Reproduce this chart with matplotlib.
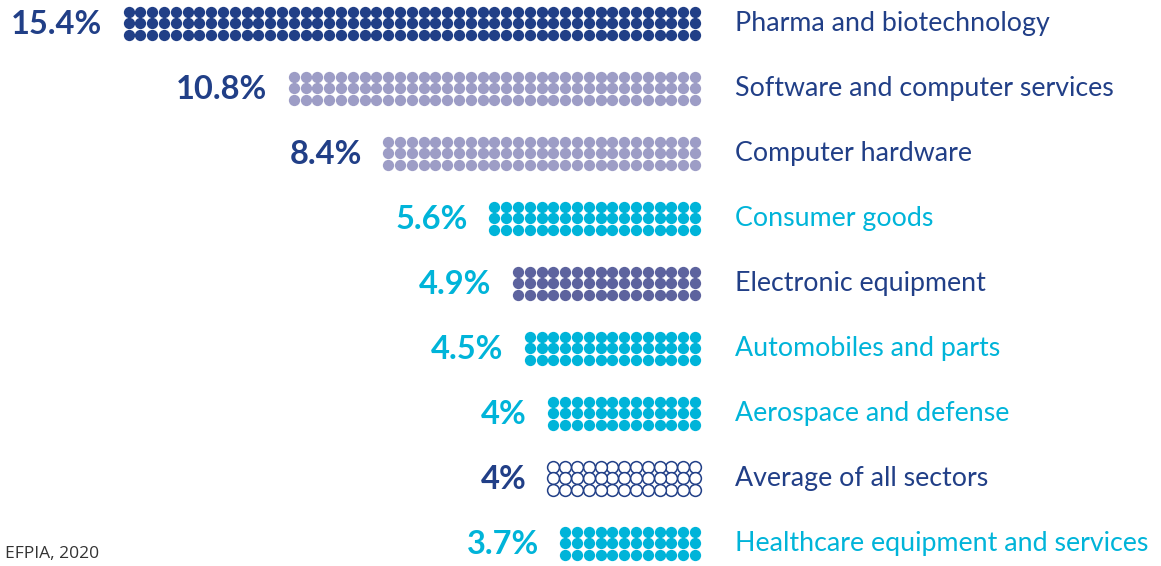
import matplotlib.pyplot as plt

# --- Data ---
sectors = ["Pharma and biotechnology", "Software and computer services",
           "Computer hardware", "Consumer goods", "Electronic equipment",
           "Automobiles and parts", "Aerospace and defense",
           "Average of all sectors", "Healthcare equipment and services"]
shares = ["15.4%", "10.8%", "8.4%", "5.6%", "4.9%", "4.5%", "4%", "4%", "3.7%"]
dot_cols = [49, 35, 27, 18, 16, 15, 13, 13, 12]

DARK = "#213f87"
LAV = "#9d9dc6"
CYAN = "#00b4d9"
SLATE = "#5d639e"

dot_colors = [DARK, LAV, LAV, CYAN, SLATE, CYAN, CYAN, "none", CYAN]
pct_colors = [DARK, DARK, DARK, CYAN, CYAN, CYAN, CYAN, DARK, CYAN]
name_colors = [DARK, DARK, DARK, CYAN, DARK, CYAN, CYAN, DARK, CYAN]

# --- Layout (pixel units) ---
W, H = 1161, 566
ROW0, ROW_STEP = 23.3, 65
PITCH_X, PITCH_Y = 11.8, 11.7
RIGHT = 695
DOT_S = 66

plt.rcParams["font.family"] = ["Lato", "DejaVu Sans"]

fig = plt.figure(figsize=(W / 100, H / 100), dpi=100)
ax = fig.add_axes([0, 0, 1, 1])
ax.set_xlim(0, W)
ax.set_ylim(H, 0)
ax.axis("off")

for i, (name, pct, n) in enumerate(zip(sectors, shares, dot_cols)):
    yc = ROW0 + i * ROW_STEP
    xs, ys = [], []
    for r in (-1, 0, 1):
        for c in range(n):
            xs.append(RIGHT - c * PITCH_X)
            ys.append(yc + r * PITCH_Y)
    if dot_colors[i] == "none":
        ax.scatter(xs, ys, s=DOT_S + 6, facecolor="white", edgecolor=DARK,
                   linewidth=1.1, zorder=2)
    else:
        ax.scatter(xs, ys, s=DOT_S, color=dot_colors[i], linewidth=0, zorder=2)
    left = RIGHT - (n - 1) * PITCH_X - 5.5
    ax.text(left - 21, yc + 1, pct, ha="right", va="center", fontsize=23.5,
            fontweight="bold", color=pct_colors[i])
    ax.text(735, yc, name, ha="left", va="center", fontsize=19.3,
            color=name_colors[i])

ax.text(5, 554, "EFPIA, 2020", ha="left", va="center", fontsize=12.5,
        color="#333333", family=["Open Sans", "DejaVu Sans"])

fig.savefig("out.png", dpi=100)
